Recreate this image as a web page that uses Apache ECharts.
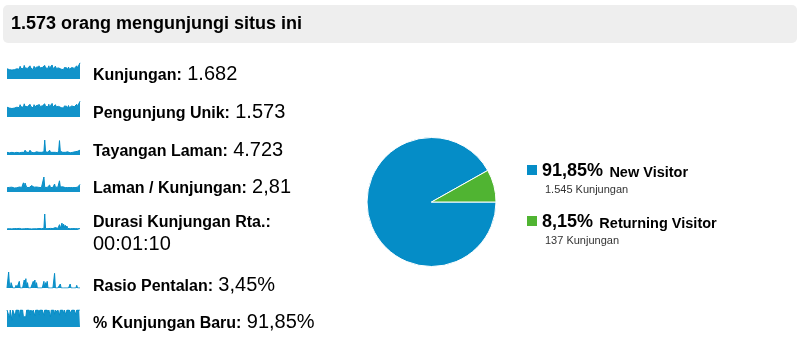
<!DOCTYPE html>
<html><head><meta charset="utf-8">
<script src="https://cdn.jsdelivr.net/npm/echarts@6/dist/echarts.min.js"></script>
<style>html,body{margin:0;padding:0;background:#fff}#c{width:802px;height:339px}</style>
</head><body><div id="c"></div>
<script>
// ---- data ----
const headline = '1.573 orang mengunjungi situs ini';
const metricLabels = ['Kunjungan:', 'Pengunjung Unik:', 'Tayangan Laman:', 'Laman / Kunjungan:', 'Durasi Kunjungan Rta.:', 'Rasio Pentalan:', '% Kunjungan Baru:'];
const metricValues = ['1.682', '1.573', '4.723', '2,81', '00:01:10', '3,45%', '91,85%'];
const visits = [24,20,28,22,19,23,21,25,20,22,26,21,24,22,27,23,30,25,22,28,24,32,26,23,29,25,27,22,31,26,24,28,22,30,25,27,23,29,24,31,26,28,23,27,30,24,32,26,22,29,25,31,23,28,26,33,24,27,22,30,25,28,21,26,24,29,23,20,25,22,27,24,30,26,21,28,23,25,22,27,24,30,25,28,23,31,26,29,27,38];
const uniques = [23,19,27,21,18,22,20,24,19,21,25,20,23,21,26,22,29,24,21,27,23,31,25,22,28,24,26,21,30,25,23,27,21,29,24,26,22,28,23,30,25,27,22,26,29,23,31,25,21,28,24,30,22,27,25,32,23,26,21,29,24,27,20,25,23,28,22,19,24,21,26,23,29,25,20,27,22,24,21,26,23,29,24,27,22,30,25,28,26,37];
const pageviews = [5,6,5,4,6,5,5,7,5,4,6,5,5,6,5,4,5,6,5,4,6,5,9,6,5,8,7,5,9,6,5,7,5,4,6,5,6,5,8,5,4,6,5,7,5,6,28,6,5,7,5,6,9,5,4,6,5,7,6,5,6,5,4,8,27,7,5,6,5,4,6,5,5,4,6,5,5,4,5,6,5,4,5,6,5,8,7,6,5,9];
const pagesPerVisit = [2.1,2.2,2.0,2.3,2.2,2.1,2.4,2.2,2.1,2.0,2.3,2.2,2.1,2.4,2.2,2.5,2.2,2.1,2.3,2.2,4.6,2.3,4.5,4.4,2.3,2.2,3.0,2.2,2.3,2.1,3.2,2.3,2.2,2.4,2.2,2.3,2.5,2.2,2.1,2.3,2.2,2.4,2.2,2.3,2.2,7.5,2.3,2.2,2.4,2.3,2.2,2.4,3.5,2.2,2.3,2.1,2.3,2.2,4.0,2.4,2.3,2.2,2.4,2.3,5.6,2.5,2.4,2.3,2.6,2.3,2.4,2.2,2.3,2.4,2.2,2.3,2.4,2.2,2.3,2.5,2.2,2.3,2.4,2.2,2.3,2.1,2.4,2.2,2.3,3.8];
const avgDuration = [40,45,60,50,45,90,40,50,70,55,45,60,50,70,45,60,50,55,40,60,50,45,60,50,55,45,50,45,60,50,40,55,50,45,60,50,45,60,50,55,45,60,50,45,55,60,600,50,45,60,50,55,45,60,50,45,55,50,60,90,70,120,60,80,200,70,150,260,100,220,90,180,70,150,60,90,50,45,60,50,55,45,60,50,45,55,50,45,60,50];
const bounceRate = [0,0,12,2,0,4,3,0,0,0,0,2,0,0,0,5,0,0,0,0,0,6,3,7,0,4,0,0,0,0,0,0,5,3,6,0,4,0,0,0,0,0,0,0,0,5,0,4,2,5,0,0,0,0,0,0,0,0,11,0,0,0,0,0,0,3,0,0,0,0,0,0,0,0,0,0,0,3,0,0,0,0,0,0,0,2,0,0,1,0];
const newVisitPct = [100,96,100,55,100,98,40,100,95,100,62,100,100,90,100,58,100,97,100,100,60,58,55,60,100,100,92,100,70,100,100,88,100,100,65,100,96,100,100,72,100,100,90,100,100,68,100,95,100,100,85,100,100,60,100,100,92,100,75,100,100,88,100,100,70,100,97,100,100,80,100,100,66,100,100,94,100,100,78,100,100,90,100,100,72,100,100,95,100,100];
const sparkSeries = [visits, uniques, pageviews, pagesPerVisit, avgDuration, bounceRate, newVisitPct];
const pieNames = ['New Visitor', 'Returning Visitor'];
const pieValues = [1545, 137];
const piePercents = ['91,85%', '8,15%'];
const pieCounts = ['1.545 Kunjungan', '137 Kunjungan'];

// ---- layout ----
const FONT = "'Liberation Sans', Arial, sans-serif";
const BLUE = '#058DC7', GREEN = '#50B432';
const sparkTops = [62, 100, 139, 176, 214, 272, 310];
const sparkH = [17, 17, 16, 16, 16, 16, 17];
const labelY = [73, 111, 149, 186, 223, 284, 321];

const grids = [], xAxes = [], yAxes = [], series = [];
sparkSeries.forEach((arr, i) => {
  grids.push({ left: 7, width: 73, top: sparkTops[i], height: sparkH[i] });
  xAxes.push({ type: 'category', gridIndex: i, show: false, boundaryGap: false, data: arr.map((_, k) => k) });
  yAxes.push({ type: 'value', gridIndex: i, show: false, min: 0 });
  series.push({
    type: 'line', xAxisIndex: i, yAxisIndex: i, data: arr, symbol: 'none', silent: true,
    lineStyle: { color: BLUE, width: 1 }, areaStyle: { color: BLUE, opacity: 0.95 }, animation: false
  });
});
series.push({
  type: 'pie', center: [431.5, 202], radius: [0, 64.5], startAngle: 0, clockwise: true,
  label: { show: false }, labelLine: { show: false }, silent: true, animation: false,
  itemStyle: { borderColor: '#fff', borderWidth: 1 },
  data: pieNames.map((n, i) => ({ name: n, value: pieValues[i], itemStyle: { color: [BLUE, GREEN][i] } }))
});

const graphics = [
  { type: 'rect', shape: { x: 3, y: 5, width: 794, height: 38, r: 5 }, style: { fill: '#eeeeee' } },
  { type: 'text', x: 11, y: 24, style: { text: headline, font: 'bold 18px ' + FONT, fill: '#000', verticalAlign: 'middle' } }
];
const rich = {
  l: { font: 'bold 16px ' + FONT, fill: '#000', verticalAlign: 'bottom', lineHeight: 22 },
  v: { font: '20px ' + FONT, fill: '#000', verticalAlign: 'bottom', lineHeight: 22, padding: [0, 0, 0, 2] }
};
metricLabels.forEach((lab, i) => {
  if (i === 4) {
    graphics.push({ type: 'text', x: 93, y: labelY[i], style: { text: lab, font: 'bold 16px ' + FONT, fill: '#000', verticalAlign: 'middle' } });
    graphics.push({ type: 'text', x: 93, y: 244, style: { text: metricValues[i], font: '20px ' + FONT, fill: '#000', verticalAlign: 'middle' } });
  } else {
    graphics.push({ type: 'text', x: 93, y: labelY[i], style: { text: '{l|' + lab + '} {v|' + metricValues[i] + '}', rich: rich, verticalAlign: 'middle' } });
  }
});
const legY = [170, 221], legSubY = [190, 241];
pieNames.forEach((n, i) => {
  graphics.push({ type: 'rect', shape: { x: 527, y: legY[i] - 5, width: 10, height: 10 }, style: { fill: [BLUE, GREEN][i] } });
  graphics.push({ type: 'text', x: 542, y: legY[i], style: {
    text: '{p|' + piePercents[i] + '} {n|' + n + '}', verticalAlign: 'middle',
    rich: {
      p: { font: 'bold 18px ' + FONT, fill: '#000', verticalAlign: 'bottom', lineHeight: 20 },
      n: { font: 'bold 14.5px ' + FONT, fill: '#000', verticalAlign: 'bottom', lineHeight: 20, padding: [0, 0, 0, 3] }
    } } });
  graphics.push({ type: 'text', x: 545, y: legSubY[i], style: { text: pieCounts[i], font: '11px ' + FONT, fill: '#333', verticalAlign: 'middle' } });
});

const chart = echarts.init(document.getElementById('c'), null, { renderer: 'canvas' });
chart.setOption({
  animation: false,
  grid: grids, xAxis: xAxes, yAxis: yAxes, series: series, graphic: graphics
});
</script></body></html>
